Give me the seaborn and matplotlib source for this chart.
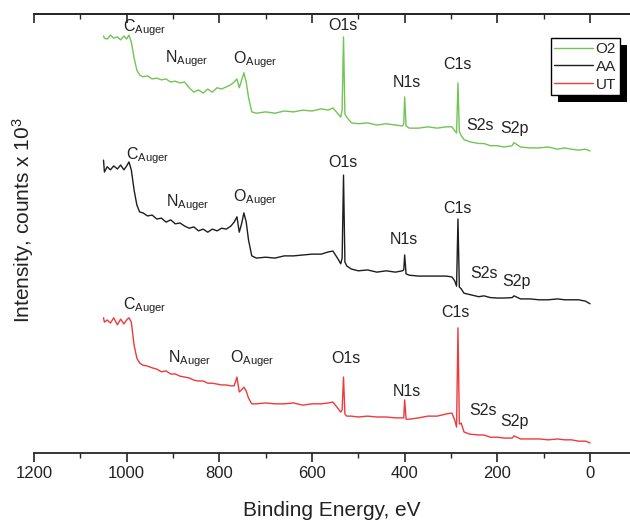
import numpy as np
import pandas as pd
import matplotlib
matplotlib.use("Agg")
import matplotlib.pyplot as plt
from matplotlib.patches import Rectangle
from matplotlib.transforms import IdentityTransform
import seaborn as sns

# binding energy grid (eV), shared by the three survey spectra
binding_energy = [1050, 1048, 1042, 1035, 1028, 1020, 1013, 1006, 1000, 995,
                  990, 984, 978, 972, 965, 955, 945, 935, 925, 915,
                  905, 895, 885, 875, 865, 855, 845, 835, 825, 815,
                  805, 795, 785, 775, 768, 762, 757, 752, 747, 742,
                  737, 730, 720, 700, 680, 660, 640, 620, 600, 580,
                  565, 555, 545, 538, 535, 532, 529, 525, 515, 500,
                  480, 460, 440, 420, 405, 402, 400, 397, 390, 370,
                  350, 330, 310, 298, 292, 288, 285, 282, 278, 272,
                  260, 240, 229, 215, 200, 185, 168, 164, 150, 130,
                  110, 90, 70, 55, 40, 25, 10, 0]

# intensities (stacked, arbitrary offset units)
o2_counts = [95.0, 94.5, 94.3, 95.2, 94.5, 94.8, 94.1, 95.0, 94.3, 95.2,
             93.6, 90.0, 87.2, 86.1, 85.7, 85.9, 85.2, 85.4, 85.0, 85.2,
             84.5, 84.7, 84.3, 84.5, 83.2, 82.2, 82.7, 82.0, 82.9, 82.2,
             83.2, 82.9, 83.4, 83.9, 84.5, 85.2, 83.2, 84.9, 86.6, 84.5,
             81.0, 77.7, 77.4, 77.7, 77.4, 77.9, 77.7, 78.1, 77.9, 78.4,
             78.1, 78.6, 77.4, 76.5, 78.1, 94.8, 77.2, 76.5, 75.2, 75.0,
             75.2, 74.7, 75.0, 74.7, 74.5, 74.9, 81.1, 74.5, 74.0, 74.0,
             74.3, 74.0, 74.3, 74.3, 73.4, 72.9, 84.3, 73.2, 72.3, 71.4,
             70.9, 70.5, 70.5, 70.0, 70.0, 69.7, 70.0, 70.7, 69.7, 69.5,
             69.5, 69.7, 69.2, 69.5, 69.2, 69.0, 69.2, 68.8]

aa_counts = [66.7, 64.0, 65.2, 64.5, 65.4, 64.7, 65.6, 64.5, 65.4, 66.3,
             64.5, 59.9, 56.5, 54.9, 54.7, 54.0, 54.2, 53.3, 53.5, 52.6,
             53.1, 52.2, 52.4, 51.7, 51.2, 51.5, 50.6, 51.0, 50.3, 51.0,
             50.6, 51.2, 51.0, 51.7, 52.6, 53.8, 50.3, 52.2, 54.7, 52.6,
             48.5, 44.9, 44.4, 44.6, 44.4, 44.9, 44.9, 45.1, 45.3, 45.3,
             45.8, 46.0, 44.4, 43.1, 44.4, 63.3, 43.5, 42.6, 41.9, 41.5,
             41.7, 41.2, 41.5, 41.2, 41.5, 41.7, 45.1, 40.8, 40.5, 40.3,
             40.3, 40.3, 40.3, 40.1, 39.2, 38.0, 53.3, 37.8, 37.4, 36.4,
             36.1, 35.6, 35.8, 35.4, 35.3, 35.3, 35.4, 35.8, 35.1, 35.1,
             34.9, 34.9, 35.1, 34.9, 34.9, 34.9, 34.6, 34.0]

ut_counts = [30.8, 29.8, 30.3, 29.6, 30.8, 29.2, 30.5, 29.4, 30.3, 30.8,
             29.8, 24.6, 21.6, 20.5, 20.0, 19.8, 19.4, 19.1, 18.5, 18.7,
             18.0, 18.0, 17.5, 17.3, 17.1, 16.6, 16.4, 16.4, 15.9, 15.9,
             15.7, 15.5, 15.5, 15.3, 15.3, 17.3, 13.9, 14.4, 15.0, 14.1,
             12.5, 11.2, 11.2, 11.4, 11.2, 11.2, 11.4, 10.9, 11.2, 11.2,
             11.4, 11.6, 10.3, 9.3, 9.8, 17.3, 8.9, 8.4, 8.4, 8.2,
             8.4, 8.2, 8.2, 8.0, 8.0, 8.0, 12.1, 7.7, 7.7, 8.0,
             8.4, 8.4, 8.9, 9.1, 7.5, 5.9, 28.5, 6.6, 6.8, 4.8,
             4.3, 4.1, 4.1, 3.6, 3.6, 3.4, 3.4, 3.9, 3.2, 3.2,
             3.2, 3.0, 3.2, 3.0, 3.0, 2.7, 2.7, 2.3]

samples = ["O2", "AA", "UT"]
colors = {"O2": "#72c455", "AA": "#1e1e1e", "UT": "#ee3a3a"}

# peak labels: text, binding energy, intensity (one list per spectrum)
auger_labels = ["C$_{\\mathrm{Auger}}$", "N$_{\\mathrm{Auger}}$", "O$_{\\mathrm{Auger}}$"]
auger_be = {"O2": [1008, 917, 771], "AA": [1002, 915, 771], "UT": [1008, 911, 777]}
auger_y = {"O2": [96.0, 89.0, 88.7], "AA": [66.9, 56.2, 57.3], "UT": [32.7, 20.6, 20.6]}

core_labels = ["O1s", "N1s", "C1s", "S2s", "S2p"]
core_be = {"O2": [533, 395, 287, 237, 164], "AA": [533, 401, 287, 229, 158],
           "UT": [527, 395, 291, 231, 162]}
core_y = {"O2": [97.3, 84.3, 88.6, 74.5, 74.0], "AA": [66.1, 48.7, 55.6, 40.8, 39.0],
          "UT": [21.6, 14.1, 31.9, 9.6, 7.1]}

df = pd.DataFrame({
    "Binding Energy": binding_energy * 3,
    "Intensity": o2_counts + aa_counts + ut_counts,
    "Sample": np.repeat(samples, len(binding_energy)),
})

sns.set_style("ticks")
plt.rcParams["font.family"] = ["Liberation Sans", "DejaVu Sans"]
plt.rcParams["mathtext.fontset"] = "custom"
plt.rcParams["mathtext.rm"] = "Liberation Sans"
plt.rcParams["mathtext.it"] = "Liberation Sans:italic"

fig = plt.figure(figsize=(6.3, 5.21), dpi=100)
ax = fig.add_axes([34 / 630, 68 / 521, 596 / 630, 439 / 521])

sns.lineplot(data=df, x="Binding Energy", y="Intensity", hue="Sample",
             palette=colors, hue_order=samples, estimator=None, sort=False,
             linewidth=1.0, legend=False, ax=ax)

ax.set_xlim(1200, -86.3)
ax.set_ylim(0, 100)

for s in samples:
    for lab, x, y in zip(auger_labels, auger_be[s], auger_y[s]):
        ax.text(x, y, lab, fontsize=11.5, color="#222222", ha="left", va="baseline")
    for lab, x, y in zip(core_labels, core_be[s], core_y[s]):
        ax.text(x, y, lab, fontsize=11.5, color="#222222", ha="center", va="center")

# axes frame: only top and bottom
ax.spines["left"].set_visible(False)
ax.spines["right"].set_visible(False)
ax.spines["top"].set_linewidth(1.3)
ax.spines["bottom"].set_linewidth(1.3)
ax.set_yticks([])
ax.set_xticks(np.arange(0, 1201, 200))
ax.set_xticks(np.arange(100, 1200, 200), minor=True)
ax.tick_params(axis="x", which="major", bottom=True, top=False, direction="out",
               length=6.5, width=1.2, labelsize=12, pad=3, colors="#222222")
ax.tick_params(axis="x", which="minor", bottom=True, top=False, direction="out",
               length=3.5, width=1.0)
# top ticks pointing inward, drawn on a twin axis
top = ax.secondary_xaxis("top")
top.set_xticks(np.arange(0, 1201, 200))
top.set_xticks(np.arange(100, 1200, 200), minor=True)
top.tick_params(axis="x", which="major", direction="in", length=6.5, width=1.2,
                labeltop=False)
top.tick_params(axis="x", which="minor", direction="in", length=3.5, width=1.0)
top.spines["top"].set_linewidth(1.3)

ax.set_xlabel("Binding Energy, eV", fontsize=15, labelpad=14, color="#222222")
ax.set_ylabel("Intensity, counts x 10$^3$", fontsize=15, color="#222222")
ax.yaxis.set_label_coords(0.003, 0.53)

handles = ax.get_lines()[:3]
leg = ax.legend(handles, samples, loc="upper right", bbox_to_anchor=(0.983, 0.945),
                borderaxespad=0, fancybox=False, framealpha=1, edgecolor="black",
                fontsize=11, handlelength=2.5, handletextpad=0.2, borderpad=0.25,
                labelspacing=0.25)
leg.get_frame().set_linewidth(1.0)
leg.set_zorder(6)

# solid black drop shadow behind the legend box
fig.canvas.draw()
bb = leg.get_window_extent()
ax.add_artist(Rectangle((bb.x0 + 7, bb.y0 - 7), bb.width, bb.height,
                        transform=IdentityTransform(), facecolor="black",
                        edgecolor="none", zorder=5))

fig.savefig("out.png", dpi=100)
